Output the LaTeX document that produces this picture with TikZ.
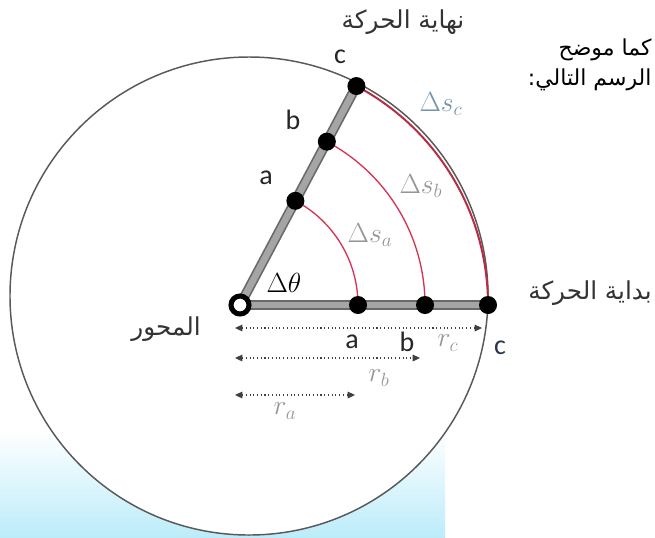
\documentclass[tikz,border=0pt]{standalone}
\usepackage{fontspec}
\usetikzlibrary{arrows.meta,calc,backgrounds}
\TeXXeTstate=1
\newfontfamily\arabicfont[Script=Arabic]{DejaVu Sans}
\newfontfamily\labelfont{Carlito}

\definecolor{arcred}{RGB}{214,52,82}
\definecolor{rodfill}{RGB}{165,165,165}
\definecolor{rodedge}{RGB}{105,105,105}
\definecolor{softgray}{RGB}{150,150,150}
\definecolor{slate}{RGB}{118,148,172}
\definecolor{deepslate}{RGB}{38,56,78}
\definecolor{skyfade}{RGB}{188,236,250}

\tikzset{every picture/.style={line width=0.75pt}}
\tikzset{
  dot/.style={circle,fill=black,inner sep=0pt,minimum size=13.5pt},
  pivotring/.style={circle,draw=black,line width=3.8pt,fill=white,inner sep=0pt,minimum size=13.5pt},
  rodouter/.style={draw=rodedge,line width=7.5pt},
  rodinner/.style={draw=rodfill,line width=5pt},
  arcthin/.style={draw=arcred,line width=1pt},
  arcthick/.style={draw=arcred!85!black,line width=1.5pt},
  dimline/.style={draw=black!75,dotted,line width=0.8pt,{Triangle[length=5.5pt,width=5pt]}-{Triangle[length=5.5pt,width=5pt]}},
  latinlbl/.style={font=\labelfont\fontsize{21}{24}\selectfont,text=black!85,inner sep=0pt},
  mathlbl/.style={font=\fontsize{20}{24}\selectfont,text=softgray,inner sep=0pt},
  arlbl/.style={font=\arabicfont\fontsize{18.5}{22}\selectfont,text=black!80,inner sep=0pt},
  notelbl/.style={font=\arabicfont\fontsize{16.5}{20}\selectfont,text=black,inner sep=0pt}
}

\begin{document}
\begin{tikzpicture}[x=0.75pt,y=0.75pt,yscale=-1,xscale=1]
\useasboundingbox (0,0) rectangle (655,537);

%Pivot and points on the rod
\node[pivotring] (pivot) at (240,305) {};
\node[dot] (a0) at ($(pivot)+(118,0)$) {};
\node[dot] (b0) at ($(pivot)+(185,0)$) {};
\node[dot] (c0) at ($(pivot)+(248,0)$) {};
\node[dot] (a1) at ($(pivot)+(-62:118)$) {};
\node[dot] (b1) at ($(pivot)+(-62:185)$) {};
\node[dot] (c1) at ($(pivot)+(-62:248)$) {};

%Ends of the dimension lines
\coordinate (rcL) at (235,328);
\coordinate (rcR) at (482,328);
\coordinate (rbL) at (235,358);
\coordinate (rbR) at (420,358);
\coordinate (raL) at (235,395);
\coordinate (raR) at (355,395);

\begin{scope}[on background layer]
%Shape: Fade at the bottom
\shade [top color=white,bottom color=skyfade] (0,430) rectangle (445,537) ;
%Shape: Circle
\begin{scope}
\clip (0,0) rectangle (655,537);
\draw [draw=black!65,fill=white,line width=1.1pt] (249,296) circle [radius=239] ;
\end{scope}
%Curve Lines: arcs
\draw [arcthin] (a0.center) arc [start angle=0,end angle=-62,radius=118] ;
\draw [arcthin] (b0.center) arc [start angle=0,end angle=-62,radius=185] ;
\draw [arcthick] (c0.center) arc [start angle=0,end angle=-62,radius=248] ;
%Straight Lines: rods
\draw [rodouter] (pivot.center) -- (c0.center) ;
\draw [rodinner] (pivot.center) -- (c0.center) ;
\draw [rodouter] (pivot.center) -- (c1.center) ;
\draw [rodinner] (pivot.center) -- (c1.center) ;
\end{scope}

%Straight Lines: dimensions
\draw [dimline] (rcL) -- (rcR) ;
\draw [dimline] (rbL) -- (rbR) ;
\draw [dimline] (raL) -- (raR) ;

%Labels on the points
\node[latinlbl] (lblc1) at (340,57) {c};
\node[latinlbl] (lblb1) at (293,120) {b};
\node[latinlbl] (lbla1) at (266,178) {a};
\node[latinlbl] (lbla0) at (352,342) {a};
\node[latinlbl] (lblb0) at (407,342) {b};
\node[latinlbl,text=deepslate] (lblc0) at (500,348) {c};

%Math labels
\node[mathlbl] (lblrc) at (448,343) {$r_c$};
\node[mathlbl] (lblrb) at (379,378) {$r_b$};
\node[mathlbl] (lblra) at (285,411) {$r_a$};
\node[mathlbl,text=slate] (lblsc) at (441,104) {$\Delta s_c$};
\node[mathlbl] (lblsb) at (421,186) {$\Delta s_b$};
\node[mathlbl] (lblsa) at (370,235) {$\Delta s_a$};
\node[mathlbl,text=black] (lbltheta) at (284,283) {$\Delta\theta$};

%Arabic texts
\node[arlbl] (lblend) at (403,22) {\beginR نهاية الحركة\endR};
\node[arlbl] (lblstart) at (590,293) {\beginR بداية الحركة\endR};
\node[arlbl] (lblaxis) at (166,329) {\beginR المحور\endR};
\node[notelbl,anchor=east] (lblline1) at (652,50) {\beginR كما موضح\endR};
\node[notelbl,anchor=east] (lblline2) at (652,80) {\beginR الرسم التالي:\endR};
\end{tikzpicture}
\end{document}
